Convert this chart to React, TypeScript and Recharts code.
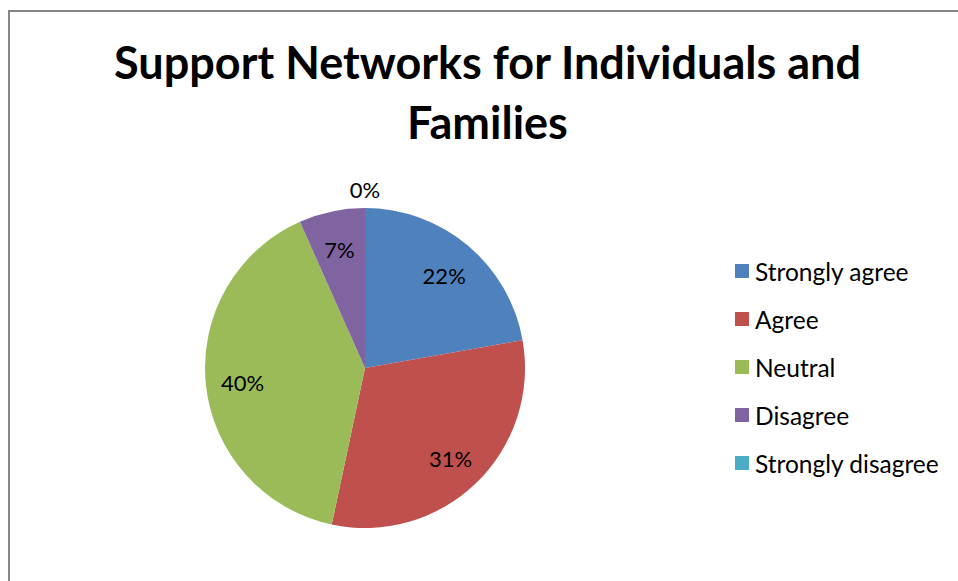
import React from "react";
import { PieChart, Pie, Cell, Legend } from "recharts";

const categories = ["Strongly agree", "Agree", "Neutral", "Disagree", "Strongly disagree"];
const counts = [10, 14, 18, 3, 0];
const colors = ["#4F81BD", "#C0504D", "#9BBB59", "#8064A2", "#4BACC6"];
const titleLines = ["Support Networks for Individuals and", "Families"];

const data = categories.map((name, i) => ({ name, value: counts[i] }));

const FONT = "Lato, 'Open Sans', sans-serif";
const RAD = Math.PI / 180;

const renderLabel = (props: any) => {
  const { cx, cy, midAngle, outerRadius, percent } = props;
  const r = percent > 0 ? outerRadius * 0.77 : outerRadius + 21;
  const x = cx + r * Math.cos(-midAngle * RAD);
  const y = cy + r * Math.sin(-midAngle * RAD) + 2;
  return (
    <text
      x={x}
      y={y}
      fill="#000"
      textAnchor="middle"
      dominantBaseline="central"
      fontSize={22}
      fontFamily={FONT}
    >
      {`${Math.round(percent * 100)}%`}
    </text>
  );
};

const renderLegend = () => (
  <div style={{ fontFamily: FONT, fontSize: 24.5, color: "#000" }}>
    {categories.map((c, i) => (
      <div key={c} style={{ display: "flex", alignItems: "center", height: 48 }}>
        <span
          style={{
            width: 14,
            height: 14,
            background: colors[i],
            marginRight: 6,
            display: "inline-block",
            flexShrink: 0,
          }}
        />
        <span style={{ whiteSpace: "nowrap" }}>{c}</span>
      </div>
    ))}
  </div>
);

export default function App() {
  return (
    <div
      style={{
        position: "fixed",
        left: 8,
        top: 10,
        width: 950,
        height: 571,
        borderLeft: "2px solid #868686",
        borderTop: "2px solid #868686",
        overflow: "hidden",
        background: "#fff",
      }}
    >
      <div
        style={{
          position: "absolute",
          left: 0,
          top: 20,
          width: 955,
          textAlign: "center",
          fontFamily: FONT,
          fontWeight: 700,
          fontSize: 45,
          lineHeight: "60px",
          color: "#000",
          whiteSpace: "nowrap",
        }}
      >
        {titleLines.map((t) => (
          <div key={t}>{t}</div>
        ))}
      </div>
      <PieChart width={950} height={571}>
        <Pie
          data={data}
          dataKey="value"
          nameKey="name"
          cx={350}
          cy={351}
          outerRadius={160}
          startAngle={90}
          endAngle={-270}
          stroke="none"
          label={renderLabel}
          labelLine={false}
          isAnimationActive={false}
        >
          {data.map((d, i) => (
            <Cell key={d.name} fill={colors[i]} />
          ))}
        </Pie>
        <Legend
          content={renderLegend}
          layout="vertical"
          wrapperStyle={{ position: "absolute", left: 725, top: 235, width: 225 }}
        />
      </PieChart>
    </div>
  );
}
